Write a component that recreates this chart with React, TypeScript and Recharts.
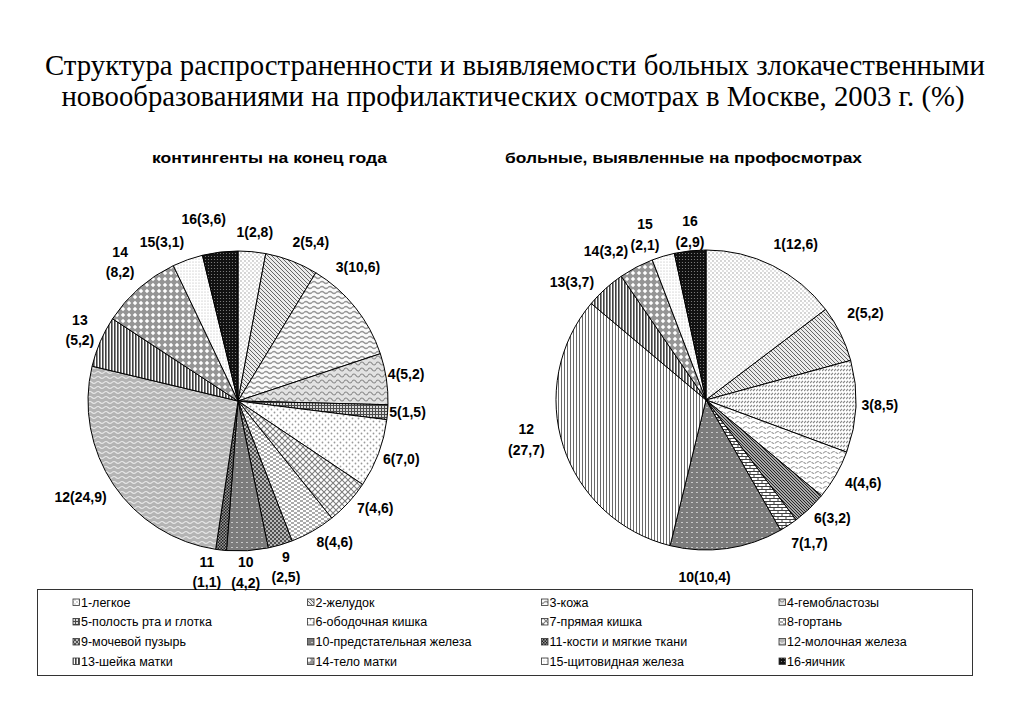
import React from "react";
import { PieChart, Pie, Cell } from "recharts";

// ---------- data ----------
const categories = [
  "1-легкое",
  "2-желудок",
  "3-кожа",
  "4-гемобластозы",
  "5-полость рта и глотка",
  "6-ободочная кишка",
  "7-прямая кишка",
  "8-гортань",
  "9-мочевой пузырь",
  "10-предстательная железа",
  "11-кости и мягкие ткани",
  "12-молочная железа",
  "13-шейка матки",
  "14-тело матки",
  "15-щитовидная железа",
  "16-яичник",
];

// контингенты на конец года (%)
const prevalenceShares = [2.8, 5.4, 10.6, 5.2, 1.5, 7.0, 4.6, 4.6, 2.5, 4.2, 1.1, 24.9, 5.2, 8.2, 3.1, 3.6];
// больные, выявленные на профосмотрах (%) — null: not shown
const detectedShares = [12.6, 5.2, 8.5, 4.6, null, 3.2, 1.7, null, null, 10.4, null, 27.7, 3.7, 3.2, 2.1, 2.9];

const titleLine1 = "Структура распространенности и выявляемости больных злокачественными";
const titleLine2 = "новообразованиями на профилактических осмотрах в Москве, 2003 г. (%)";
const leftTitle = "контингенты на конец года";
const rightTitle = "больные, выявленные на профосмотрах";

// ---------- styles / layout ----------
const leftFills = ["p1", "p2", "p3L", "p4L", "p5", "p6L", "p7L", "p8L", "p9", "p10", "p11", "p12L", "p13", "p14", "p15", "p16"];
const rightFills = ["p1", "p2", "p3R", "p4R", "p5", "p6R", "p7R", "p8L", "p9", "p10", "p11", "p12R", "p13", "p14", "p15", "p16"];
// label nudges (px) per site number, relative to radial position
const leftNudge: Record<number, [number, number]> = {
  1: [1, 0], 2: [12, -0.5], 3: [-13, -28], 4: [0, -2], 5: [0, -2], 6: [4, -1.5], 7: [12, -8], 8: [12, -6],
  9: [0, 2.5], 10: [-3, 1.5], 11: [-12, 2], 12: [-16.5, 0.5], 13: [-2, -4], 14: [-6, -11], 15: [-19, 1], 16: [-14, -13],
};
const rightNudge: Record<number, [number, number]> = {
  1: [14, -4], 2: [7, -12], 3: [4, -2], 4: [10, -2], 6: [9, -5], 7: [10, 1], 10: [-25, 9],
  12: [-18, -13.5], 13: [-20, 8], 14: [-21, 1.5], 15: [-12.5, -3], 16: [2, 0.5],
};
const leftBreaks = [9, 10, 11, 13, 14];
const rightBreaks = [12, 15, 16];

const siteNo = (i: number) => i + 1;
const fmt = (v: number) => v.toFixed(1).replace(".", ",");

const leftData = categories.map((name, i) => ({ name, site: siteNo(i), value: prevalenceShares[i], fill: leftFills[i] }));
const rightData = categories
  .map((name, i) => ({ name, site: siteNo(i), value: detectedShares[i], fill: rightFills[i] }))
  .filter((d) => d.value != null) as { name: string; site: number; value: number; fill: string }[];

const RAD = Math.PI / 180;

function makeLabel(data: any[], nudges: Record<number, [number, number]>, breaks: number[]) {
  return (props: any) => {
    const { cx, cy, midAngle, outerRadius, index } = props;
    const d = data[index];
    if (!d) return null;
    const r = outerRadius + 20;
    const n = nudges[d.site] || [0, 0];
    const x = cx + r * Math.cos(-midAngle * RAD) + n[0];
    const y = cy + r * Math.sin(-midAngle * RAD) + n[1];
    const common = {
      textAnchor: "middle" as const,
      fontFamily: "Liberation Sans, Arial, sans-serif",
      fontWeight: 700,
      fontSize: 14,
      fill: "#000",
    };
    if (breaks.includes(d.site)) {
      return (
        <text key={`l${index}`} x={x} y={y} {...common}>
          <tspan x={x} y={y - 10} dominantBaseline="central">{`${d.site}`}</tspan>
          <tspan x={x} y={y + 10.5} dominantBaseline="central">{`(${fmt(d.value)})`}</tspan>
        </text>
      );
    }
    return (
      <text key={`l${index}`} x={x} y={y} dominantBaseline="central" {...common}>
        {`${d.site}(${fmt(d.value)})`}
      </text>
    );
  };
}

function wave(w: number, y: number, a: number) {
  return `M0,${y} Q${w / 4},${y - a} ${w / 2},${y} T${w},${y}`;
}

function Patterns() {
  return (
    <svg width={0} height={0} style={{ position: "absolute", left: 0, top: 0 }}>
      <defs>
        <pattern id="p1" width={4} height={4} patternUnits="userSpaceOnUse">
          <rect width={4} height={4} fill="#fff" />
          <circle cx={1} cy={1} r={0.65} fill="#8a8a8a" />
          <circle cx={3} cy={3} r={0.65} fill="#a8a8a8" />
        </pattern>
        <pattern id="p2" width={4} height={4} patternUnits="userSpaceOnUse">
          <rect width={4} height={4} fill="#ececec" />
          <path d="M-1,-1 L5,5 M-1,3 L1,5 M3,-1 L5,1" stroke="#666" strokeWidth={1} />
        </pattern>
        <pattern id="p3L" width={8} height={5} patternUnits="userSpaceOnUse">
          <rect width={8} height={5} fill="#fafafa" />
          <path d={wave(8, 2.5, 2)} stroke="#959595" strokeWidth={1.3} fill="none" />
        </pattern>
        <pattern id="p4L" width={8} height={6} patternUnits="userSpaceOnUse">
          <rect width={8} height={6} fill="#e2e2e2" />
          <path d={wave(8, 3.5, 3)} stroke="#888" strokeWidth={1.2} fill="none" />
        </pattern>
        <pattern id="p5" width={3} height={3} patternUnits="userSpaceOnUse">
          <rect width={3} height={3} fill="#d8d8d8" />
          <path d="M0.5,0 V3 M0,0.5 H3" stroke="#4a4a4a" strokeWidth={1} />
        </pattern>
        <pattern id="p6L" width={6} height={6} patternUnits="userSpaceOnUse">
          <rect width={6} height={6} fill="#fff" />
          <circle cx={1.5} cy={1.5} r={0.9} fill="#9a9a9a" />
          <circle cx={4.5} cy={4.5} r={0.9} fill="#9a9a9a" />
        </pattern>
        <pattern id="p7L" width={6} height={6} patternUnits="userSpaceOnUse">
          <rect width={6} height={6} fill="#fff" />
          <path d="M0,0 L6,6 M6,0 L0,6" stroke="#7d7d7d" strokeWidth={1.1} />
        </pattern>
        <pattern id="p8L" width={6} height={4} patternUnits="userSpaceOnUse">
          <rect width={6} height={4} fill="#fff" />
          <path d="M0,1 H3 M3,3 H6" stroke="#8f8f8f" strokeWidth={1.3} />
        </pattern>
        <pattern id="p9" width={4} height={4} patternUnits="userSpaceOnUse">
          <rect width={4} height={4} fill="#b8b8b8" />
          <rect x={0} y={0} width={2} height={2} fill="#505050" />
          <rect x={2} y={2} width={2} height={2} fill="#505050" />
        </pattern>
        <pattern id="p10" width={5} height={5} patternUnits="userSpaceOnUse">
          <rect width={5} height={5} fill="#7c7c7c" />
          <rect x={1} y={2} width={2} height={1} fill="#c8c8c8" />
        </pattern>
        <pattern id="p11" width={3} height={3} patternUnits="userSpaceOnUse">
          <rect width={3} height={3} fill="#9a9a9a" />
          <rect x={0} y={0} width={1.5} height={1.5} fill="#202020" />
          <rect x={1.5} y={1.5} width={1.5} height={1.5} fill="#202020" />
        </pattern>
        <pattern id="p12L" width={8} height={5} patternUnits="userSpaceOnUse">
          <rect width={8} height={5} fill="#b4b4b4" />
          <path d={wave(8, 2.5, 2)} stroke="#e8e8e8" strokeWidth={1.1} fill="none" />
        </pattern>
        <pattern id="p13" width={3} height={3} patternUnits="userSpaceOnUse">
          <rect width={3} height={3} fill="#fff" />
          <rect x={0} y={0} width={1.6} height={3} fill="#404040" />
        </pattern>
        <pattern id="p14" width={6} height={6} patternUnits="userSpaceOnUse">
          <rect width={6} height={6} fill="#959595" />
          <path d="M3,0.8 L5.2,3 L3,5.2 L0.8,3 Z" fill="#fff" />
        </pattern>
        <pattern id="p15" width={3} height={3} patternUnits="userSpaceOnUse">
          <rect width={3} height={3} fill="#fff" />
          <circle cx={1} cy={1} r={0.6} fill="#b0b0b0" />
        </pattern>
        <pattern id="p16" width={3} height={3} patternUnits="userSpaceOnUse">
          <rect width={3} height={3} fill="#111" />
          <circle cx={1.5} cy={1.5} r={0.6} fill="#8a8a8a" />
        </pattern>
        <pattern id="p3R" width={6} height={4} patternUnits="userSpaceOnUse">
          <rect width={6} height={4} fill="#fff" />
          <path d="M0,3 L2,1 M3,3 L5,1" stroke="#8a8a8a" strokeWidth={1.1} />
        </pattern>
        <pattern id="p4R" width={8} height={5} patternUnits="userSpaceOnUse">
          <rect width={8} height={5} fill="#fff" />
          <path d={wave(8, 2.5, 2)} stroke="#9c9c9c" strokeWidth={1.1} fill="none" strokeDasharray="3 1" />
        </pattern>
        <pattern id="p6R" width={3} height={3} patternUnits="userSpaceOnUse">
          <rect width={3} height={3} fill="#a8a8a8" />
          <path d="M-1,-1 L4,4 M-1,2 L1,4 M2,-1 L4,1" stroke="#262626" strokeWidth={1} />
        </pattern>
        <pattern id="p7R" width={8} height={6} patternUnits="userSpaceOnUse">
          <rect width={8} height={6} fill="#fff" />
          <path d="M0,0.5 H8 M0,3.5 H8 M2,0.5 V3.5 M6,3.5 V6" stroke="#404040" strokeWidth={1} />
        </pattern>
        <pattern id="p12R" width={3} height={3} patternUnits="userSpaceOnUse">
          <rect width={3} height={3} fill="#fff" />
          <path d="M0.5,0 V3" stroke="#6a6a6a" strokeWidth={1} />
        </pattern>
      </defs>
    </svg>
  );
}

function Titles() {
  return (
    <svg width={1023} height={180} style={{ position: "absolute", left: 0, top: 0 }}>
      <text x={515} y={75} textAnchor="middle" fontFamily="Liberation Serif, Times New Roman, serif" fontSize={30}
        textLength={940} lengthAdjust="spacingAndGlyphs">{titleLine1}</text>
      <text x={513} y={106} textAnchor="middle" fontFamily="Liberation Serif, Times New Roman, serif" fontSize={30}
        textLength={903} lengthAdjust="spacingAndGlyphs">{titleLine2}</text>
      <text x={269.5} y={163} textAnchor="middle" fontFamily="Liberation Sans, Arial, sans-serif" fontWeight={700}
        fontSize={14.5} textLength={235} lengthAdjust="spacingAndGlyphs">{leftTitle}</text>
      <text x={683.5} y={163} textAnchor="middle" fontFamily="Liberation Sans, Arial, sans-serif" fontWeight={700}
        fontSize={14.5} textLength={357} lengthAdjust="spacingAndGlyphs">{rightTitle}</text>
    </svg>
  );
}

const legendIconX = [73, 307.5, 541.5, 779];
const legendRowsY = [602.5, 622, 642, 661.5];

function LegendBox() {
  return (
    <svg width={1023} height={100} style={{ position: "absolute", left: 0, top: 585 }}>
      <rect x={37.5} y={4.5} width={935} height={86} fill="#fff" stroke="#333" strokeWidth={1} />
      {categories.map((c, i) => {
        const col = i % 4;
        const row = Math.floor(i / 4);
        const x = legendIconX[col];
        const y = legendRowsY[row] - 585;
        return (
          <g key={c}>
            <rect x={x} y={y - 3.5} width={6.5} height={6.5} fill={`url(#${leftFills[i]})`} stroke="#333" strokeWidth={0.8} />
            <text x={x + 8} y={y} dominantBaseline="central" fontFamily="Liberation Sans, Arial, sans-serif" fontSize={12.5} fill="#000">
              {c}
            </text>
          </g>
        );
      })}
    </svg>
  );
}

export default function App() {
  return (
    <div style={{ position: "absolute", left: 0, top: 0, width: 1023, height: 708, background: "#fff", overflow: "hidden" }}>
      <Patterns />
      <Titles />
      <LegendBox />
      <div style={{ position: "absolute", left: 0, top: 0 }}>
        <PieChart width={1023} height={708} margin={{ top: 0, right: 0, bottom: 0, left: 0 }}>
          <Pie
            data={leftData}
            dataKey="value"
            nameKey="name"
            cx={238}
            cy={401}
            outerRadius={150}
            startAngle={90}
            endAngle={-270}
            stroke="#000"
            strokeWidth={1}
            isAnimationActive={false}
            labelLine={false}
            label={makeLabel(leftData, leftNudge, leftBreaks)}
          >
            {leftData.map((d) => (
              <Cell key={d.site} fill={`url(#${d.fill})`} />
            ))}
          </Pie>
          <Pie
            data={rightData}
            dataKey="value"
            nameKey="name"
            cx={706}
            cy={400}
            outerRadius={150}
            startAngle={90}
            endAngle={-270}
            stroke="#000"
            strokeWidth={1}
            isAnimationActive={false}
            labelLine={false}
            label={makeLabel(rightData, rightNudge, rightBreaks)}
          >
            {rightData.map((d) => (
              <Cell key={d.site} fill={`url(#${d.fill})`} />
            ))}
          </Pie>
        </PieChart>
      </div>
    </div>
  );
}
